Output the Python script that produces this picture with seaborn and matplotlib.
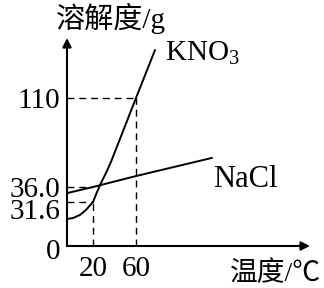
import numpy as np
import pandas as pd
import matplotlib
matplotlib.use("Agg")
import matplotlib.pyplot as plt
import matplotlib.transforms as mtransforms
import seaborn as sns

# ---- data ----
kno3_temp = [0, 4.6, 10, 14.6, 20, 23.7, 27.4, 32.1, 36.7, 60, 77.7]
kno3_sol = [19.4, 20.1, 22.3, 25.9, 31.6, 34.5, 39.3, 47.7, 56.8, 110, 150]
nacl_temp = [0, 20, 60, 130.7]
nacl_sol = [34.2, 36.0, 45.1, 60.2]
x_ticks = [20, 60]
x_tick_labels = ["20", "60"]
y_ticks = [0, 31.6, 36.0, 110]
y_tick_labels = ["0", "31.6", "36.0", "110"]
y_label = "溶解度/g"
x_label = "温度/℃"

sns.set_theme(style="white")
plt.rcParams["font.family"] = ["Liberation Serif", "Noto Sans CJK SC", "DejaVu Sans"]
plt.rcParams["mathtext.default"] = "regular"

W, H = 324, 288
fig = plt.figure(figsize=(W / 100, H / 100), dpi=100)
fig.patch.set_facecolor("white")
ox, oy = 67, 246
aw, ah = 243, 208
ax = fig.add_axes([ox / W, (H - oy) / H, aw / W, ah / H])
ax.set_facecolor("white")

# schematic (non-uniform) axes, as in the textbook figure
xv = [0, 20, 60, 400]
xp = [0, 26, 69, 69 + 340 * 1.075]
yv = [0, 31.6, 36.0, 110, 400]
yp = [0, 44, 59, 148, 148 + 290 * 1.2]
ax.set_xscale("function", functions=(lambda v: np.interp(v, xv, xp),
                                      lambda p: np.interp(p, xp, xv)))
ax.set_yscale("function", functions=(lambda v: np.interp(v, yv, yp),
                                      lambda p: np.interp(p, yp, yv)))

kdf = pd.DataFrame({"t": kno3_temp, "s": kno3_sol})
ndf = pd.DataFrame({"t": nacl_temp, "s": nacl_sol})
sns.lineplot(data=kdf, x="t", y="s", ax=ax, color="black", lw=1.4, sort=False)
sns.lineplot(data=ndf, x="t", y="s", ax=ax, color="black", lw=1.4, sort=False)

# guide dashed lines
dash = dict(color="black", lw=1.0, linestyle=(0, (5, 3.5)))
ax.plot([0, 60], [110, 110], **dash)
ax.plot([60, 60], [0, 110], **dash)
ax.plot([0, 20], [36.0, 36.0], **dash)
ax.plot([0, 20], [31.6, 31.6], **dash)
ax.plot([20, 20], [0, 31.6], **dash)

ax.set_xlim(0, 60 + (aw - 69) / 1.075)
ax.set_ylim(0, 110 + (ah - 148) / 1.2)

for s in ax.spines.values():
    s.set_visible(False)
ax.annotate("", xy=(1.0, 0), xytext=(0, 0), xycoords="axes fraction",
            arrowprops=dict(arrowstyle="-|>", color="black", lw=1.5,
                            mutation_scale=13, shrinkA=0, shrinkB=0))
ax.annotate("", xy=(0, 1.0), xytext=(0, 0), xycoords="axes fraction",
            arrowprops=dict(arrowstyle="-|>", color="black", lw=1.5,
                            mutation_scale=13, shrinkA=0, shrinkB=0))

ax.set_xticks(x_ticks)
ax.set_xticklabels(x_tick_labels)
ax.set_yticks(y_ticks)
ax.set_yticklabels(y_tick_labels)
ax.tick_params(axis="x", length=0, pad=7, labelsize=21, colors="black")
ax.tick_params(axis="y", length=0, pad=5, labelsize=21, colors="black")
ax.set_xlabel("")
ax.set_ylabel("")
ax.grid(False)

# nudge crowded tick labels like the printed figure
ylabs = ax.get_yticklabels()
ylabs[0].set_transform(ylabs[0].get_transform() +
                       mtransforms.ScaledTranslation(0, -0.03, fig.dpi_scale_trans))
ylabs[1].set_transform(ylabs[1].get_transform() +
                       mtransforms.ScaledTranslation(0, -0.07, fig.dpi_scale_trans))

fig.text(111 / W, 1 - 18 / H, y_label, ha="center", va="center", fontsize=21,
         family=["Liberation Serif", "Noto Sans CJK SC"], color="black")
fig.text(275 / W, 1 - 274 / H, x_label, ha="center", va="center", fontsize=20,
         family=["Liberation Serif", "Noto Sans CJK SC"], color="black")
ax.text(0.403, 0.925, "KNO$_3$", transform=ax.transAxes, fontsize=21,
        ha="left", va="center", color="black")
ax.text(0.6, 0.322, "NaCl", transform=ax.transAxes, fontsize=22,
        ha="left", va="center", color="black")

fig.savefig("out.png", dpi=100, facecolor="white")
